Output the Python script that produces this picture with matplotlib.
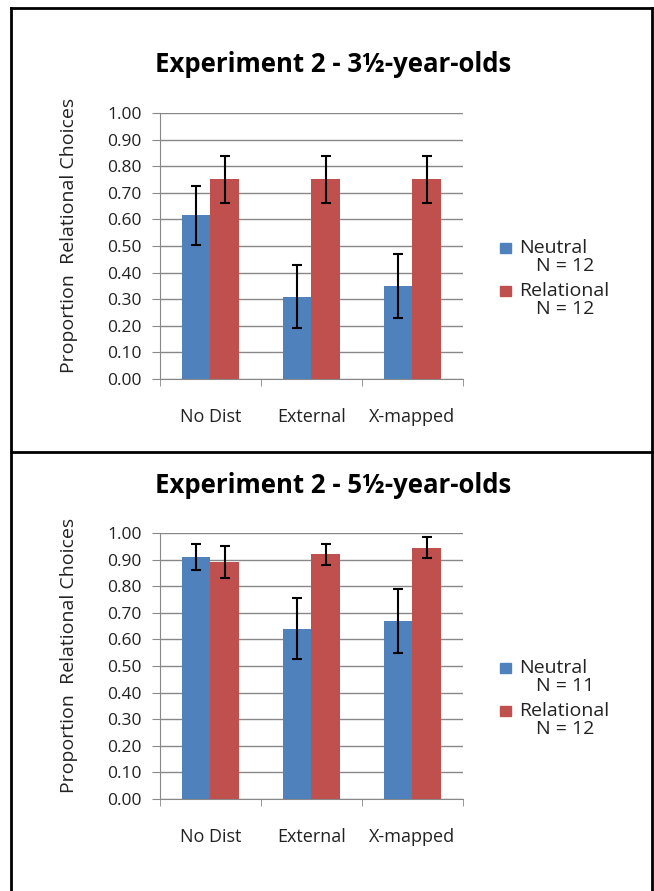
import matplotlib
matplotlib.use('Agg')

import matplotlib.pyplot as plt
import numpy as np

plt.rcParams['font.family'] = ['Open Sans', 'DejaVu Sans']

# Data
conditions = ['No Dist', 'External', 'X-mapped']
series = ['Neutral', 'Relational']
titles = ['Experiment 2 - 3½-year-olds', 'Experiment 2 - 5½-year-olds']

neutral_young = [0.615, 0.31, 0.35]
neutral_young_err = [0.11, 0.12, 0.12]
relational_young = [0.75, 0.75, 0.75]
relational_young_err = [0.09, 0.09, 0.09]

neutral_old = [0.91, 0.64, 0.67]
neutral_old_err = [0.05, 0.115, 0.12]
relational_old = [0.89, 0.92, 0.945]
relational_old_err = [0.06, 0.04, 0.04]

n_young = [12, 12]
n_old = [11, 12]

yticks = np.arange(0, 1.01, 0.1)
colors = ['#4F81BD', '#C0504D']
txt = '#222222'

fig = plt.figure(figsize=(6.54, 8.91), dpi=100)

# panel frames
frame = dict(color='black', lw=2, transform=fig.transFigure, clip_on=False)
fig.add_artist(plt.Line2D([11/654, 11/654], [0, 1 - 8/891], **frame))
fig.add_artist(plt.Line2D([11/654, 652/654], [1 - 8/891, 1 - 8/891], **frame))
fig.add_artist(plt.Line2D([652/654, 652/654], [0, 1 - 8/891], **frame))
fig.add_artist(plt.Line2D([11/654, 652/654], [1 - 452/891, 1 - 452/891], **frame))

# (axes bottom, title, values..., title y px, legend rows y px)
panels = [
    (0.5746, titles[0], neutral_young, neutral_young_err, relational_young, relational_young_err, n_young, 65, [248, 291]),
    (0.1033, titles[1], neutral_old, neutral_old_err, relational_old, relational_old_err, n_old, 486, [668, 711]),
]

x = np.arange(len(conditions))
w = 0.28

for bottom, title, neu, neu_e, rel, rel_e, ns, ty, legy in panels:
    ax = fig.add_axes([0.2446, bottom, 0.4633, 0.2986])
    err_kw = dict(ecolor='black', elinewidth=1.5, capsize=3.5, capthick=1.5)
    ax.bar(x - w/2, neu, w, yerr=neu_e, color=colors[0], error_kw=err_kw, zorder=3, label=series[0])
    ax.bar(x + w/2, rel, w, yerr=rel_e, color=colors[1], error_kw=err_kw, zorder=3, label=series[1])

    ax.set_ylim(0, 1)
    ax.set_xlim(-0.5, 2.5)
    ax.set_yticks(yticks)
    ax.set_yticklabels(['%.2f' % t for t in yticks], fontsize=12.5, color=txt)
    ax.yaxis.grid(True, color='#888888', lw=1, zorder=0)
    ax.tick_params(axis='y', length=6, color='#888888', pad=7)

    ax.set_xticks(x)
    ax.set_xticklabels(conditions, fontsize=13, color=txt)
    ax.tick_params(axis='x', length=0, pad=21)
    ax.set_xticks(np.arange(-0.5, 3, 1), minor=True)
    ax.tick_params(axis='x', which='minor', length=5, color='#888888')

    for s in ['top', 'right']:
        ax.spines[s].set_visible(False)
    for s in ['left', 'bottom']:
        ax.spines[s].set_color('#888888')

    ax.set_ylabel('Proportion  Relational Choices', fontsize=14, color=txt)
    ax.yaxis.set_label_coords(-0.27, 0.54)

    fig.text(0.509, 1 - ty/891, title, ha='center', va='center', fontsize=18.5, fontweight='bold')

    # legend
    for i, name in enumerate(series):
        ly = 1 - legy[i] / 891
        fig.patches.append(plt.Rectangle((500/654, ly - 5/891), 11/654, 10/891,
                                         transform=fig.transFigure, color=colors[i]))
        fig.text(519/654, ly, name, ha='left', va='center', fontsize=14, color=txt)
        fig.text(536/654, ly - 18/891, 'N = %d' % ns[i], ha='left', va='center', fontsize=14, color=txt)

fig.savefig('out.png', dpi=100)
